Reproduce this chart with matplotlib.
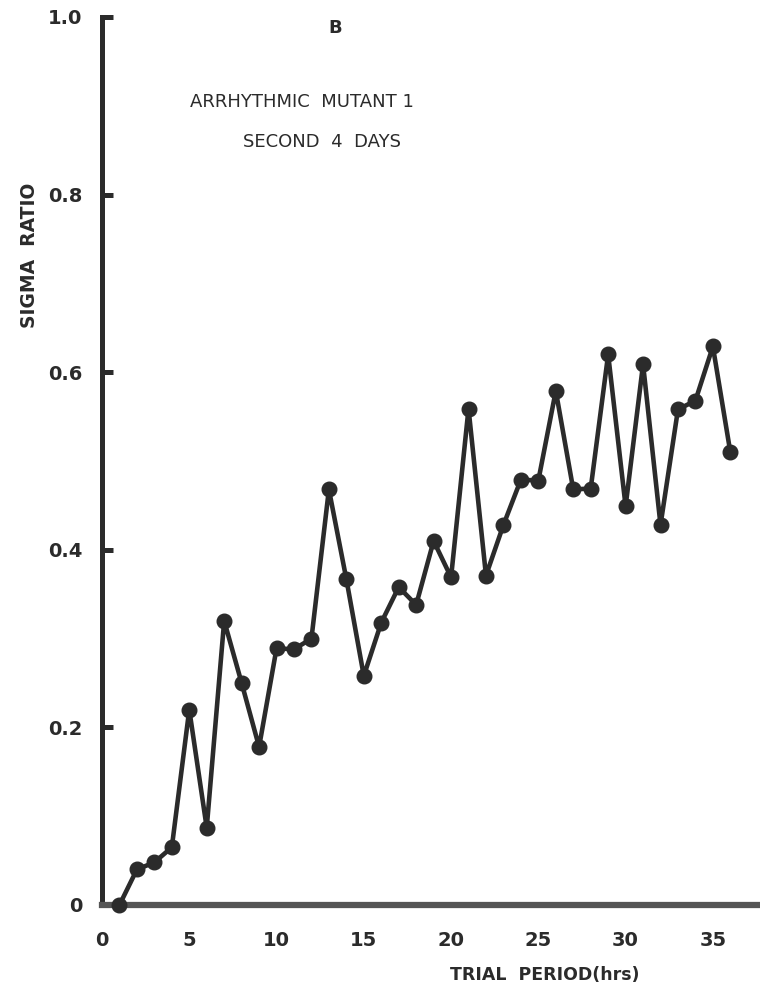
import matplotlib
matplotlib.use("Agg")
import matplotlib.pyplot as plt

trial_period = list(range(1, 37))
sigma_ratio = [0.0, 0.04, 0.048, 0.065, 0.22, 0.087, 0.32, 0.25, 0.178, 0.289,
               0.288, 0.30, 0.468, 0.367, 0.258, 0.318, 0.358, 0.338, 0.41, 0.369,
               0.559, 0.371, 0.428, 0.479, 0.478, 0.579, 0.468, 0.469, 0.62, 0.449,
               0.609, 0.428, 0.558, 0.568, 0.629, 0.51]
x_ticks = [0, 5, 10, 15, 20, 25, 30, 35]
y_ticks = [0, 0.2, 0.4, 0.6, 0.8, 1.0]
y_tick_labels = ["0", "0.2", "0.4", "0.6", "0.8", "1.0"]

ink = "#2b2b2b"
plt.rcParams['font.family'] = ['DejaVu Sans']

fig = plt.figure(figsize=(7.6, 9.93), dpi=100)
fig.patch.set_facecolor("white")
ax = fig.add_axes([102/760, 88/993, 1 - 102/760, (905-17)/993])
ax.set_facecolor("white")

ax.plot(trial_period, sigma_ratio, color=ink, lw=3.3, marker="o", ms=10.5,
        mfc=ink, mec=ink, clip_on=False, zorder=3)

ax.set_xlim(0, 37.7)
ax.set_ylim(0, 1.0)

for s in ["top", "right"]:
    ax.spines[s].set_visible(False)
ax.spines["left"].set_linewidth(3.6)
ax.spines["left"].set_color(ink)
ax.spines["bottom"].set_linewidth(4.5)
ax.spines["bottom"].set_color("#555555")

ax.set_xticks(x_ticks)
ax.set_xticklabels([str(t) for t in x_ticks])
ax.set_yticks(y_ticks)
ax.set_yticklabels(y_tick_labels)
ax.tick_params(axis="x", length=0, pad=19, labelsize=14, labelcolor=ink)
ax.tick_params(axis="y", direction="in", length=8, width=3.6, color=ink,
               pad=14, labelsize=14, labelcolor=ink)
for lab in ax.get_xticklabels() + ax.get_yticklabels():
    lab.set_fontweight("semibold")

fig.text(30/760, 1 - 255/993, "SIGMA  RATIO", rotation=90, ha="center", va="center",
         fontsize=13.5, color=ink, fontweight="semibold")
fig.text(545/760, 1 - 975/993, "TRIAL  PERIOD(hrs)", ha="center", va="center",
         fontsize=12.5, color=ink, fontweight="semibold")

fig.text(335/760, 1 - 28/993, "B", ha="center", va="center", fontsize=13,
         color=ink, fontweight="bold")
fig.text(302/760, 1 - 102/993, "ARRHYTHMIC  MUTANT 1", ha="center", va="center",
         fontsize=13, color=ink, fontweight="medium")
fig.text(322/760, 1 - 142/993, "SECOND  4  DAYS", ha="center", va="center",
         fontsize=13, color=ink, fontweight="medium")

fig.savefig("out.png", dpi=100, facecolor="white")
